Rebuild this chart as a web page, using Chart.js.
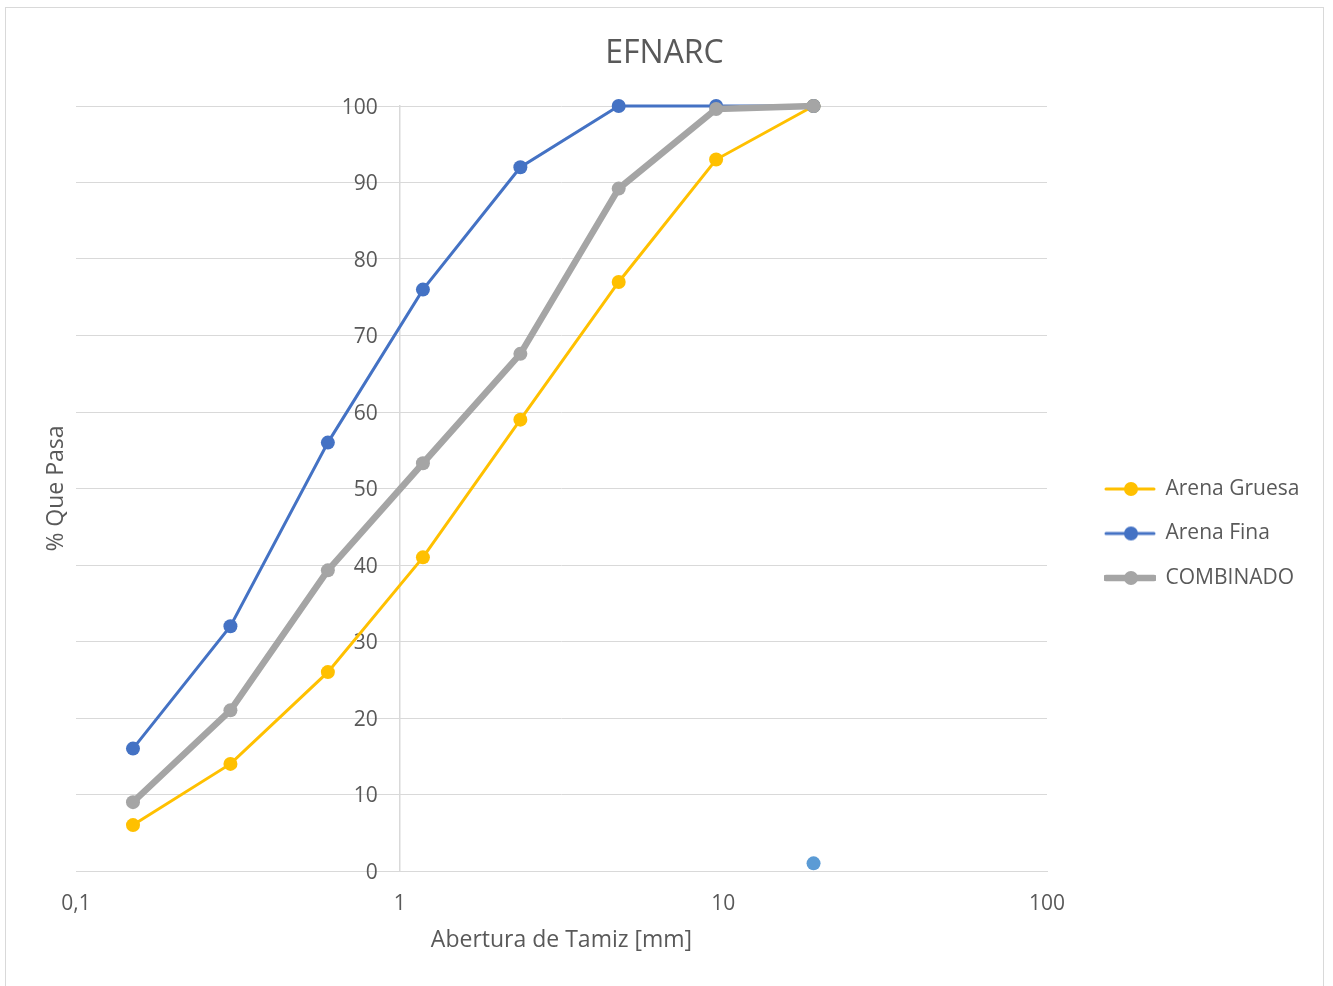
<!DOCTYPE html>
<html>
<head>
<meta charset="utf-8">
<title>EFNARC</title>
<script src="https://cdn.jsdelivr.net/npm/chart.js@4.4.1/dist/chart.umd.min.js"></script>
<style>
  html, body { margin: 0; padding: 0; background: #fff; overflow: hidden; }
  #frame {
    position: absolute; left: 5px; top: 7px;
    width: 1317px; height: 990px;
    border: 1px solid #d9d9d9; background: #fff;
  }
  #wrap { position: absolute; left: 0; top: 0; width: 1317px; height: 978px; }
</style>
</head>
<body>
<div id="frame">
  <div id="wrap"><canvas id="gradChart"></canvas></div>
</div>
<script>
// tamices (mm) y % que pasa
const sieveSizes = [0.15, 0.3, 0.6, 1.18, 2.36, 4.75, 9.5, 19];
const arenaGruesa = [6, 14, 26, 41, 59, 77, 93, 100];
const arenaFina = [16, 32, 56, 76, 92, 100, 100, 100];
const combinado = [9, 21, 39.3, 53.3, 67.6, 89.2, 99.6, 100];
const extraX = [19];
const extraY = [1];
const xTicks = [0.1, 1, 10, 100];

const textColor = "#595959";
const gridColor = "#d9d9d9";
const fontFamily = "'Open Sans', sans-serif";

function toPoints(xs, ys) {
    return xs.map((x, i) => ({ x: x, y: ys[i] }));
}

// small line + dot image for the legend
function legendMarker(color, lineW) {
    const c = document.createElement("canvas");
    c.width = 52; c.height = 18;
    const g = c.getContext("2d");
    g.strokeStyle = color;
    g.lineWidth = lineW;
    g.lineCap = "round";
    g.beginPath();
    g.moveTo(2, 9);
    g.lineTo(50, 9);
    g.stroke();
    g.fillStyle = color;
    g.beginPath();
    g.arc(27, 9, 7, 0, Math.PI * 2);
    g.fill();
    return c;
}

const legendPlugin = {
    id: "legendPlace",
    beforeLayout(chart) {
        const lg = chart.legend;
        if (lg && !lg._fixedFit) {
            const fit = lg.fit.bind(lg);
            lg.fit = function () {
                fit();
                this.width = 276;
            };
            lg._fixedFit = true;
        }
    },
    afterUpdate(chart) {
        const lg = chart.legend;
        const pad = lg.options.labels.padding;
        const w = lg.right - lg.left;
        const h = lg.bottom - lg.top;
        lg.left = 1099 - pad;
        lg.right = lg.left + w;
        lg.top = 470.5 - pad;
        lg.bottom = lg.top + h;
    }
};

// y axis sits at x = 1, push its labels a bit left of the line
function shiftYLabels(scale) {
    if (scale._shifted) return;
    const orig = scale._computeLabelItems.bind(scale);
    scale._computeLabelItems = function (area) {
        const items = orig(area);
        items.forEach(it => {
            if (it.options && it.options.translation) {
                it.options.translation[0] -= 22;
                it.options.translation[1] += 2;
            }
        });
        return items;
    };
    scale._shifted = true;
}

const ctx = document.getElementById("gradChart").getContext("2d");
const chart = new Chart(ctx, {
    type: "line",
    data: {
        datasets: [
            {
                label: "Arena Gruesa",
                data: toPoints(sieveSizes, arenaGruesa),
                borderColor: "#ffc000",
                backgroundColor: "#ffc000",
                borderWidth: 3,
                pointRadius: 7,
                pointBorderWidth: 0,
                clip: false,
                order: 3,
                markerImg: legendMarker("#ffc000", 3)
            },
            {
                label: "Arena Fina",
                data: toPoints(sieveSizes, arenaFina),
                borderColor: "#4472c4",
                backgroundColor: "#4472c4",
                borderWidth: 3,
                pointRadius: 7,
                pointBorderWidth: 0,
                clip: false,
                order: 2,
                markerImg: legendMarker("#4472c4", 3)
            },
            {
                label: "COMBINADO",
                data: toPoints(sieveSizes, combinado),
                borderColor: "#a5a5a5",
                backgroundColor: "#a5a5a5",
                borderWidth: 6.5,
                pointRadius: 7,
                pointBorderWidth: 0,
                borderCapStyle: "round",
                borderJoinStyle: "round",
                clip: false,
                order: 1,
                markerImg: legendMarker("#a5a5a5", 6.5)
            },
            {
                label: "extra",
                data: toPoints(extraX, extraY),
                borderColor: "#5b9bd5",
                backgroundColor: "#5b9bd5",
                showLine: false,
                pointRadius: 7,
                pointBorderWidth: 0,
                clip: false,
                order: 0
            }
        ]
    },
    options: {
        responsive: true,
        maintainAspectRatio: false,
        animation: false,
        layout: { padding: 0 },
        plugins: {
            title: {
                display: true,
                text: "EFNARC",
                color: textColor,
                font: { family: fontFamily, size: 32, weight: "normal" },
                padding: { top: 26.8, bottom: 32.8 }
            },
            legend: {
                position: "right",
                align: "start",
                fullSize: false,
                labels: {
                    color: textColor,
                    font: { family: fontFamily, size: 21 },
                    padding: 23.5,
                    usePointStyle: true,
                    pointStyleWidth: 50,
                    sort: (a, b) => a.datasetIndex - b.datasetIndex,
                    filter: (item) => item.datasetIndex < 3,
                    generateLabels(chart) {
                        return chart.data.datasets.map((ds, i) => ({
                            text: ds.label,
                            fontColor: textColor,
                            pointStyle: ds.markerImg,
                            fillStyle: ds.borderColor,
                            strokeStyle: ds.borderColor,
                            lineWidth: 0,
                            hidden: false,
                            datasetIndex: i
                        }));
                    }
                }
            },
            tooltip: { enabled: false }
        },
        scales: {
            x: {
                type: "logarithmic",
                min: 0.1,
                max: 100,
                afterBuildTicks(scale) {
                    scale.ticks = xTicks.map(v => ({ value: v }));
                },
                afterFit(scale) { scale.height = 115; },
                grid: { display: false },
                border: { display: true, color: gridColor, width: 1 },
                ticks: {
                    color: textColor,
                    font: { family: fontFamily, size: 21 },
                    padding: 12,
                    autoSkip: false,
                    maxRotation: 0,
                    callback: (v) => String(v).replace(".", ",")
                },
                title: {
                    display: true,
                    text: "Abertura de Tamiz [mm]",
                    color: textColor,
                    font: { family: fontFamily, size: 23 },
                    padding: { top: 0, bottom: 32 }
                }
            },
            y: {
                type: "linear",
                position: { x: 1 },
                min: 0,
                max: 100,
                afterUpdate: shiftYLabels,
                ticks: {
                    stepSize: 10,
                    color: textColor,
                    font: { family: fontFamily, size: 21 },
                    padding: 0
                },
                grid: { color: gridColor, lineWidth: 1, drawTicks: false },
                border: { display: true, color: gridColor, width: 1.5 }
            },
            yTitle: {
                type: "linear",
                position: "left",
                afterFit(scale) { scale.width = 70; },
                grid: { display: false },
                border: { display: false },
                ticks: { display: false },
                title: {
                    display: true,
                    text: "% Que Pasa",
                    color: textColor,
                    font: { family: fontFamily, size: 23 },
                    padding: { top: 37, bottom: 0 }
                }
            }
        }
    },
    plugins: [legendPlugin]
});
</script>
</body>
</html>
